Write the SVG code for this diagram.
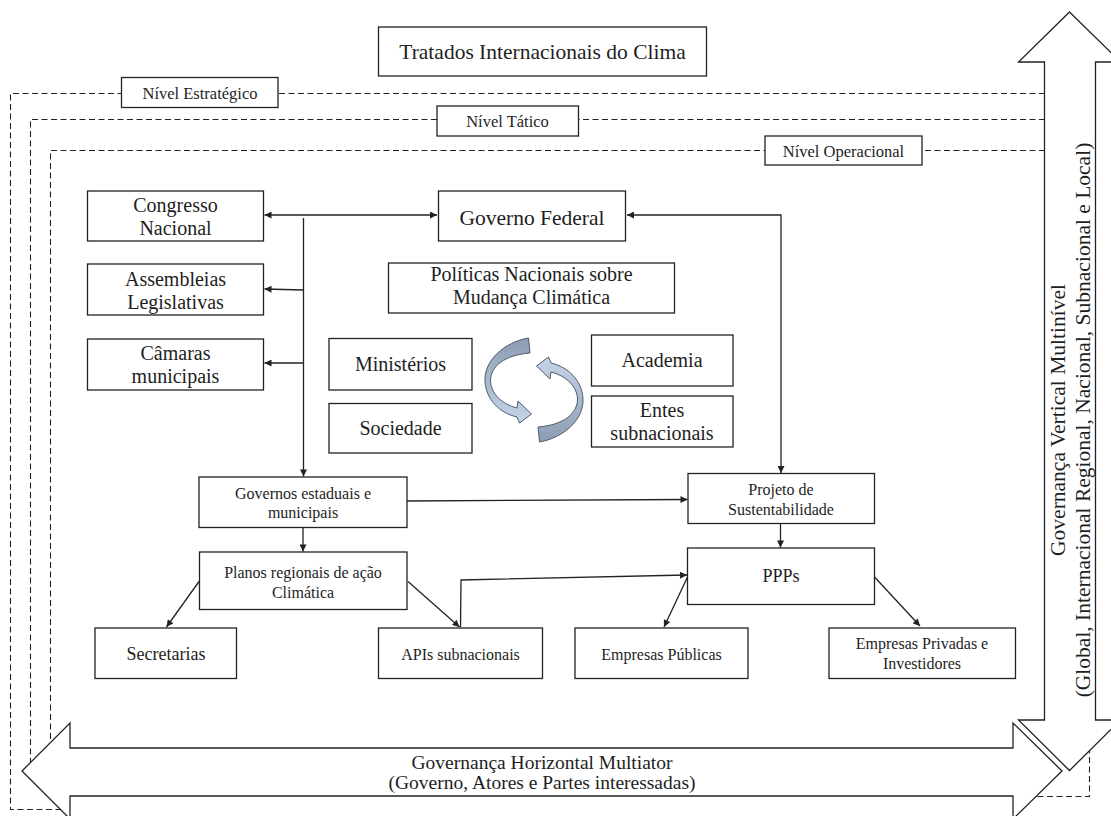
<svg xmlns="http://www.w3.org/2000/svg" width="1111" height="816" viewBox="0 0 1111 816">
<style>
.box{fill:#fff;stroke:#222;stroke-width:1.3}
.t{font-family:"Liberation Serif","Times New Roman",serif;fill:#1e1e1e;text-anchor:middle}
.dash{fill:none;stroke:#222;stroke-width:1.1;stroke-dasharray:6 3.5}
.con{fill:none;stroke:#222;stroke-width:1.3}
.big{fill:#fff;stroke:#222;stroke-width:1.3;stroke-linejoin:miter}
</style>
<defs>
<marker id="ah" viewBox="0 0 10 10" refX="10" refY="5" markerWidth="8" markerHeight="7" markerUnits="userSpaceOnUse" orient="auto-start-reverse">
<path d="M0,0 L10,5 L0,10 z" fill="#222"/>
</marker>
<linearGradient id="gL" x1="0" y1="0" x2="0" y2="1">
<stop offset="0" stop-color="#8b9cb3"/>
<stop offset="0.5" stop-color="#a9b9cd"/>
<stop offset="1" stop-color="#c6d6ea"/>
</linearGradient>
<linearGradient id="gR" x1="0" y1="0" x2="0" y2="1">
<stop offset="0" stop-color="#8b9cb3"/>
<stop offset="0.5" stop-color="#a9b9cd"/>
<stop offset="1" stop-color="#c6d6ea"/>
</linearGradient>
</defs>
<rect width="1111" height="816" fill="#fff"/>

<g id="levels">
<path class="dash" d="M1045 93.5 H10.5 V809.5 H70"/>
<path class="dash" d="M1045 119.5 H30.5 V770"/>
<path class="dash" d="M1045 150.5 H50.5 V750"/>
<path class="dash" d="M1089.5 700 V796.5 H1030"/>
</g>

<g id="vertical-arrow">
<path class="big" d="M1069.5 12 L1120.5 62 L1095.5 62 L1095.5 720 L1120.5 720 L1069.5 770.5 L1018.5 720 L1044.5 720 L1044.5 62 L1018.5 62 Z"/>
<text class="t" font-size="21.5" transform="translate(1070 420) rotate(-90)"><tspan x="0" y="-5">Governança Vertical Multinível</tspan><tspan x="0" y="20">(Global, Internacional Regional, Nacional, Subnacional e Local)</tspan></text>
</g>

<g id="horizontal-arrow">
<path class="big" d="M22 771 L70 723 L70 748 L1013 748 L1013 723 L1062 771 L1013 819 L1013 796 L70 796 L70 819 Z"/>
<text class="t" font-size="19.5"><tspan x="542" y="768.5">Governança Horizontal Multiator</tspan><tspan x="542" y="788.5">(Governo, Atores e Partes interessadas)</tspan></text>
</g>

<g id="tratados">
<rect class="box" x="378.5" y="27" width="328" height="49"/>
<text class="t" font-size="21.5" x="542.5" y="59">Tratados Internacionais do Clima</text>
</g>
<g id="nivel-estrategico">
<rect class="box" x="121.5" y="77.5" width="156.5" height="30"/>
<text class="t" font-size="16.5" x="200" y="98.5">Nível Estratégico</text>
</g>
<g id="nivel-tatico">
<rect class="box" x="437" y="106" width="141.5" height="30"/>
<text class="t" font-size="16.5" x="507.5" y="127">Nível Tático</text>
</g>
<g id="nivel-operacional">
<rect class="box" x="765" y="136" width="157" height="29"/>
<text class="t" font-size="16.5" x="843.5" y="156.5">Nível Operacional</text>
</g>

<g id="connectors">
<path class="con" d="M264.5 215 H437" marker-start="url(#ah)" marker-end="url(#ah)"/>
<path class="con" d="M303.5 218 V476.5" marker-end="url(#ah)"/>
<path class="con" d="M303.5 290 L264.5 289" marker-end="url(#ah)"/>
<path class="con" d="M303.5 363 H264.5" marker-end="url(#ah)"/>
<path class="con" d="M627 215 H781 V473" marker-start="url(#ah)" marker-end="url(#ah)"/>
<path class="con" d="M407 501 L687.5 499.5" marker-end="url(#ah)"/>
<path class="con" d="M303 527.5 V551.5" marker-end="url(#ah)"/>
<path class="con" d="M780.5 523.5 V547.5" marker-end="url(#ah)"/>
<path class="con" d="M199 581.5 L166.5 627" marker-end="url(#ah)"/>
<path class="con" d="M408 581.5 L459.5 627" marker-end="url(#ah)"/>
<path class="con" d="M460.5 627 L461 580 L687 575" marker-end="url(#ah)"/>
<path class="con" d="M687.5 577 L664 627" marker-end="url(#ah)"/>
<path class="con" d="M874.5 577 L920 626" marker-end="url(#ah)"/>
</g>

<g id="congresso">
<rect class="box" x="87.5" y="191" width="176" height="50"/>
<text class="t" font-size="20"><tspan x="175.5" y="212">Congresso</tspan><tspan x="175.5" y="235">Nacional</tspan></text>
</g>
<g id="assembleias">
<rect class="box" x="87.5" y="264" width="176" height="51"/>
<text class="t" font-size="20"><tspan x="175.5" y="286">Assembleias</tspan><tspan x="175.5" y="308.5">Legislativas</tspan></text>
</g>
<g id="camaras">
<rect class="box" x="87.5" y="339" width="176" height="51"/>
<text class="t" font-size="20"><tspan x="175.5" y="360">Câmaras</tspan><tspan x="175.5" y="383">municipais</tspan></text>
</g>
<g id="governo-federal">
<rect class="box" x="438.5" y="191" width="187" height="50"/>
<text class="t" font-size="21.5" x="532" y="224.5">Governo Federal</text>
</g>
<g id="politicas">
<rect class="box" x="388.5" y="263" width="286" height="50"/>
<text class="t" font-size="20"><tspan x="531.5" y="280.5">Políticas Nacionais sobre</tspan><tspan x="531.5" y="303.5">Mudança Climática</tspan></text>
</g>
<g id="ministerios">
<rect class="box" x="329" y="338.5" width="143" height="51.5"/>
<text class="t" font-size="20" x="400.5" y="370.5">Ministérios</text>
</g>
<g id="sociedade">
<rect class="box" x="329" y="403.5" width="143" height="49.5"/>
<text class="t" font-size="20" x="400.5" y="435">Sociedade</text>
</g>
<g id="academia">
<rect class="box" x="591.5" y="335" width="141.5" height="51"/>
<text class="t" font-size="20" x="662" y="367">Academia</text>
</g>
<g id="entes">
<rect class="box" x="591.5" y="396" width="141.5" height="51"/>
<text class="t" font-size="20"><tspan x="662" y="417">Entes</tspan><tspan x="662" y="439.5">subnacionais</tspan></text>
</g>

<g id="ciclo">
<path d="M528.5 338 C505 342 484 360 485 381 C486 400 500 413 517 417 L519.5 423 L531.5 414 L518 401 L517 408 C502 404 491 394 490.5 381 C490.5 366 505 355 530 353 Z" fill="url(#gL)" stroke="#4f5b6b" stroke-width="1"/>
<path transform="rotate(180 534 390)" d="M528.5 338 C505 342 484 360 485 381 C486 400 500 413 517 417 L519.5 423 L531.5 414 L518 401 L517 408 C502 404 491 394 490.5 381 C490.5 366 505 355 530 353 Z" fill="url(#gR)" stroke="#4f5b6b" stroke-width="1"/>
</g>

<g id="governos-estaduais">
<rect class="box" x="199" y="477" width="208" height="50.5"/>
<text class="t" font-size="16"><tspan x="303" y="499">Governos estaduais e</tspan><tspan x="303" y="518">municipais</tspan></text>
</g>
<g id="projeto">
<rect class="box" x="688" y="473.5" width="186.5" height="50"/>
<text class="t" font-size="16"><tspan x="781" y="495">Projeto de</tspan><tspan x="781" y="514.5">Sustentabilidade</tspan></text>
</g>
<g id="planos">
<rect class="box" x="199.5" y="552" width="207.5" height="57.5"/>
<text class="t" font-size="16"><tspan x="303" y="577.5">Planos regionais de ação</tspan><tspan x="303" y="597.5">Climática</tspan></text>
</g>
<g id="ppps">
<rect class="box" x="687.5" y="548" width="187" height="56.5"/>
<text class="t" font-size="18" x="781" y="582">PPPs</text>
</g>
<g id="secretarias">
<rect class="box" x="95" y="628" width="141.5" height="50.5"/>
<text class="t" font-size="18" x="166" y="660">Secretarias</text>
</g>
<g id="apis">
<rect class="box" x="378.5" y="628" width="164" height="50.5"/>
<text class="t" font-size="16" x="460.5" y="660">APIs subnacionais</text>
</g>
<g id="empresas-publicas">
<rect class="box" x="575" y="628" width="173" height="50.5"/>
<text class="t" font-size="16" x="661.5" y="660">Empresas Públicas</text>
</g>
<g id="empresas-privadas">
<rect class="box" x="829" y="628" width="186.5" height="50.5"/>
<text class="t" font-size="16"><tspan x="922" y="648.5">Empresas Privadas e</tspan><tspan x="922" y="668.5">Investidores</tspan></text>
</g>
</svg>
